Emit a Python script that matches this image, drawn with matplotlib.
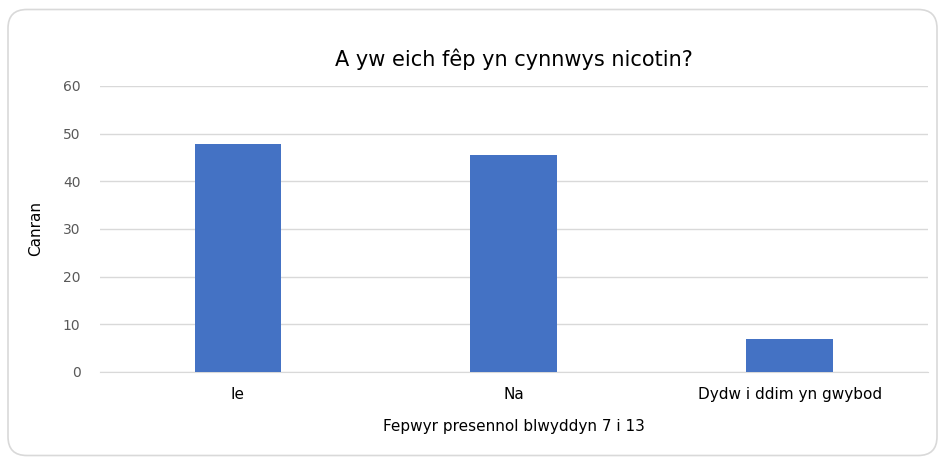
import matplotlib.pyplot as plt
from matplotlib.patches import FancyBboxPatch

# values
categories = ['Ie', 'Na', 'Dydw i ddim yn gwybod']
percent = [47.8, 45.5, 6.9]
yticks = [0, 10, 20, 30, 40, 50, 60]

fig = plt.figure(figsize=(9.39, 4.57), dpi=100)
ax = fig.add_axes([0.1065, 0.186, 0.8815, 0.626])

# rounded frame round the whole chart
frame = FancyBboxPatch((8 / 939, 1.5 / 457), 929 / 939, 446 / 457,
                       boxstyle="round,pad=0,rounding_size=0.02",
                       transform=fig.transFigure, facecolor='none',
                       edgecolor='#d9d9d9', linewidth=1.2, mutation_aspect=939 / 457)
fig.patches.append(frame)

ax.bar(range(len(categories)), percent, width=0.315, color='#4472C4', zorder=3)
ax.set_xlim(-0.5, len(categories) - 0.5)
ax.set_ylim(0, 60)
ax.set_yticks(yticks)
ax.yaxis.grid(True, color='#d9d9d9', linewidth=1)
ax.set_axisbelow(True)
for s in ['top', 'right', 'left']:
    ax.spines[s].set_visible(False)
ax.spines['bottom'].set_color('#d9d9d9')
ax.tick_params(length=0)
ax.tick_params(axis='y', colors='#595959', labelsize=10, pad=14)
ax.tick_params(axis='x', labelsize=11, pad=11)
ax.set_xticks(range(len(categories)))
ax.set_xticklabels(categories)

ax.set_title("A yw eich fêp yn cynnwys nicotin?", fontsize=15, pad=14)
ax.set_ylabel("Canran", fontsize=11, labelpad=14)
ax.set_xlabel("Fepwyr presennol blwyddyn 7 i 13", fontsize=11, labelpad=12)

fig.savefig('out.png', dpi=100)
